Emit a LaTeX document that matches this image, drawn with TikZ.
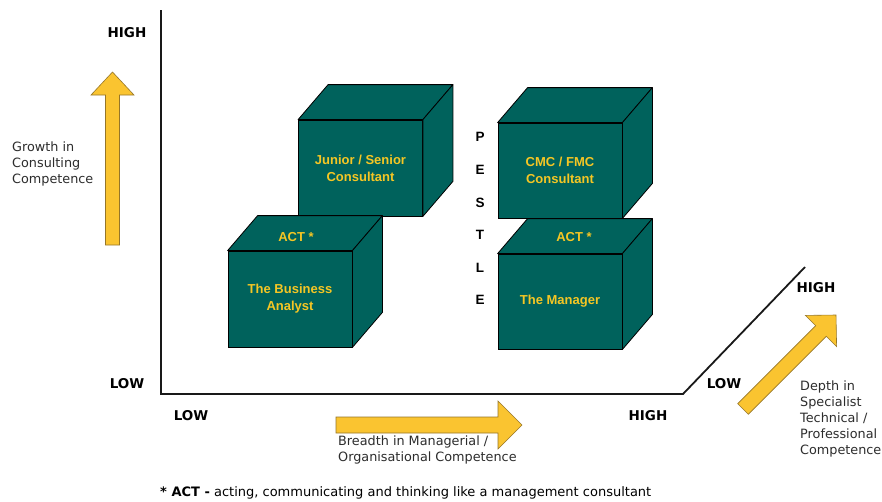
\documentclass[tikz,border=0pt]{standalone}
\usepackage{fontspec}
\setmainfont{DejaVu Sans}
\newfontfamily\arialf{Liberation Sans}
\usetikzlibrary{calc}
\definecolor{teal1}{RGB}{0,98,92}
\definecolor{gold1}{RGB}{245,198,36}
\definecolor{arrowfill}{RGB}{250,196,48}
\definecolor{arrowline}{RGB}{150,118,40}
\definecolor{txtgray}{RGB}{45,45,45}
\tikzset{
  cubefront/.style={draw=black, line width=0.8pt, fill=teal1, minimum width=124pt, minimum height=96pt, inner sep=0pt,
    text=gold1, align=center, font=\arialf\bfseries\fontsize{13}{17}\selectfont},
  cubeface/.style={draw=black, line width=0.8pt, fill=teal1, line join=round},
  acttext/.style={text=gold1, font=\arialf\bfseries\fontsize{13}{17}\selectfont, inner sep=0pt},
  axislabel/.style={font=\bfseries\fontsize{13.5}{15}\selectfont, inner sep=0pt},
  desc/.style={text=txtgray, align=left, anchor=west, inner sep=0pt, font=\fontsize{12.8}{16}\selectfont},
  pestle/.style={font=\arialf\bfseries\fontsize{13.5}{15}\selectfont, inner sep=0pt},
  bigarrow/.style={fill=arrowfill, draw=arrowline, line width=0.6pt, line join=miter},
  axisline/.style={draw=black!90, line width=1.8pt, line join=miter}
}
\newcommand{\cubesides}[1]{%
  \draw[cubeface] (#1.north west) -- ++(30,-35) -- ($(#1.north east)+(30,-35)$) -- (#1.north east) -- cycle;
  \draw[cubeface] (#1.north east) -- ++(30,-35) -- ($(#1.south east)+(30,-35)$) -- (#1.south east) -- cycle;
}
\begin{document}
\begin{tikzpicture}[x=1pt,y=-1pt]
\useasboundingbox (0,0) rectangle (882,501);
\fill[white] (0,0) rectangle (882,501);

% axes
\coordinate (ytop) at (161,10);
\coordinate (origin) at (161,394);
\coordinate (corner) at (683,394);
\coordinate (zend) at (805,267);
\draw[axisline] (ytop) -- (origin) -- (corner) -- (zend);

% axis labels
\node[axislabel] (hiY) at (127,33) {HIGH};
\node[axislabel] (loY) at (127,384) {LOW};
\node[axislabel] (loX) at (191,416) {LOW};
\node[axislabel] (hiX) at (648,416) {HIGH};
\node[axislabel] (loZ) at (724,384) {LOW};
\node[axislabel] (hiZ) at (816,288) {HIGH};

% yellow arrows
\draw[bigarrow] (105.5,245) -- (105.5,95) -- (91,95) -- (112.5,72) -- (134,95) -- (119.5,95) -- (119.5,245) -- cycle;
\draw[bigarrow] (336,417) -- (498,417) -- (498,401) -- (522,425) -- (498,449) -- (498,433) -- (336,433) -- cycle;
\draw[bigarrow] (737.7,403.7) -- (815.7,325.7) -- (805.4,315.4) -- (836,315) -- (836.6,346.6) -- (826.3,336.3) -- (748.3,414.3) -- cycle;

% descriptions
\node[desc] (growth) at (12,164) {Growth in\\Consulting\\Competence};
\node[desc] (breadth) at (338,449.5) {Breadth in Managerial /\\Organisational Competence};
\node[desc] (depth) at (800,419) {Depth in\\Specialist\\Technical /\\Professional\\Competence};
\node[desc, text=black, font=\fontsize{13}{16}\selectfont] (foot) at (160,493) {\textbf{* ACT -} acting, communicating and thinking like a management consultant};

% cubes
\node[cubefront] (c1) at (360.5,168) {Junior / Senior\\Consultant};
\cubesides{c1}
\node[cubefront] (c2) at (290,299) {The Business\\Analyst};
\cubesides{c2}
\node[acttext] (act2) at (296,237) {ACT *};
\node[cubefront, minimum height=95pt] (c3) at (560,170.5) {CMC / FMC\\Consultant};
\cubesides{c3}
\node[cubefront, minimum height=95pt] (c4) at (560,301.5) {The Manager};
\cubesides{c4}
\node[acttext] (act4) at (574,237) {ACT *};

% PESTLE
\node[pestle] (pP) at (480,137) {P};
\node[pestle] (pE) at (480,170) {E};
\node[pestle] (pS) at (480,203) {S};
\node[pestle] (pT) at (480,235) {T};
\node[pestle] (pL) at (480,268) {L};
\node[pestle] (pE2) at (480,300) {E};
\end{tikzpicture}
\end{document}
